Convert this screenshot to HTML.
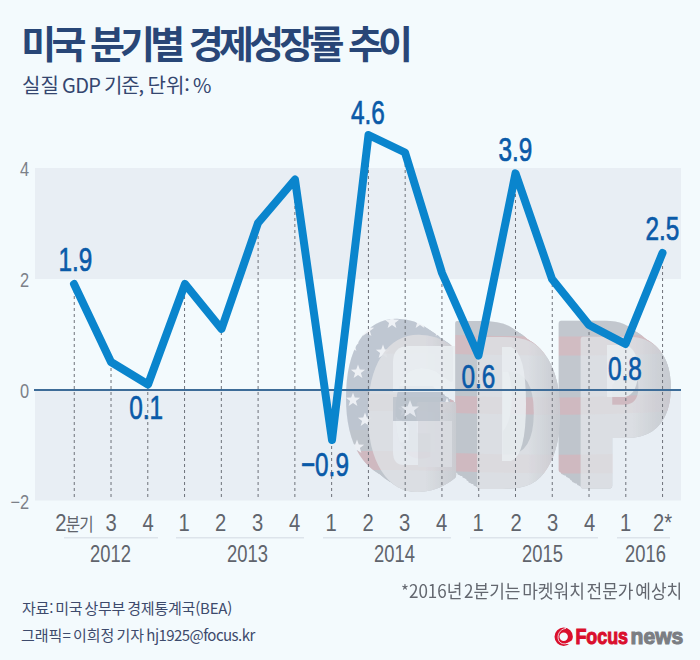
<!DOCTYPE html>
<html lang="ko"><head><meta charset="utf-8">
<style>
html,body{margin:0;padding:0}
body{width:700px;height:660px;overflow:hidden;background:#f3fafd;position:relative;font-family:"Liberation Sans","Noto Sans CJK KR",sans-serif}
.t{position:absolute;white-space:nowrap;transform-origin:0 0}
#title{left:21.3px;top:22.9px;font:700 38px/1 "Noto Sans CJK KR",sans-serif;color:#284677;letter-spacing:-4.8px;word-spacing:2.5px}
#sub{left:22px;top:75px;font:400 20px/1 "Noto Sans CJK KR",sans-serif;color:#34466f;word-spacing:-4px}
svg{position:absolute;left:0;top:0}
.yl{font:400 20px "Liberation Sans",sans-serif;fill:#7c8088}
.xl{font:400 23.2px "Liberation Sans","Noto Sans CJK KR",sans-serif;fill:#60646c}
.yr{font:400 24.2px "Liberation Sans",sans-serif;fill:#60646c}
.vl{font:400 33.8px "Liberation Sans",sans-serif;fill:#0a5aa8;stroke:#0a5aa8;stroke-width:0.7px}
#src{left:22px;top:600px;font:400 15px/1 "Noto Sans CJK KR",sans-serif;color:#3d4a6c;word-spacing:-2px;letter-spacing:-0.2px}
#cr{left:21px;top:626.5px;font:400 15px/1 "Noto Sans CJK KR",sans-serif;color:#3d4a6c;word-spacing:-2px;letter-spacing:0px}
#note{left:400.5px;top:581px;font:400 18px/1 "Noto Sans CJK KR",sans-serif;color:#63676f;transform:scaleX(0.945);word-spacing:-3.2px}
</style></head><body>
<div class="t" id="title">미국 분기별 경제성장률 추이</div>
<div class="t" id="sub"><span style="position:absolute;left:0">실질</span><span style="position:absolute;left:40px;letter-spacing:-0.6px">GDP</span><span style="position:absolute;left:82px;letter-spacing:-1.2px">기준,</span><span style="position:absolute;left:125.5px">단위:</span><span style="position:absolute;left:171px">%</span>&#8203;</div>
<svg width="700" height="660" viewBox="0 0 700 660">
  <rect x="35" y="168" width="646" height="111" fill="#e8eef4"/>
  <rect x="35" y="390" width="646" height="110.5" fill="#e8eef4"/>
  <g id="gdp">
    <defs>
      <filter id="fExt" filterUnits="userSpaceOnUse" x="300" y="290" width="400" height="220"><feOffset in="SourceGraphic" dx="-2.2" dy="-1.6" result="o1"/><feOffset in="SourceGraphic" dx="-4.4" dy="-3.2" result="o2"/><feOffset in="SourceGraphic" dx="-6.6" dy="-4.8" result="o3"/><feOffset in="SourceGraphic" dx="-8.8" dy="-6.4" result="o4"/><feOffset in="SourceGraphic" dx="-11.0" dy="-8.0" result="o5"/><feOffset in="SourceGraphic" dx="-13.2" dy="-9.6" result="o6"/><feOffset in="SourceGraphic" dx="-15.4" dy="-11.2" result="o7"/><feOffset in="SourceGraphic" dx="-17.6" dy="-12.8" result="o8"/><feOffset in="SourceGraphic" dx="-19.8" dy="-14.4" result="o9"/><feOffset in="SourceGraphic" dx="-22.0" dy="-16.0" result="o10"/><feMerge><feMergeNode in="SourceGraphic"/><feMergeNode in="o1"/><feMergeNode in="o2"/><feMergeNode in="o3"/><feMergeNode in="o4"/><feMergeNode in="o5"/><feMergeNode in="o6"/><feMergeNode in="o7"/><feMergeNode in="o8"/><feMergeNode in="o9"/><feMergeNode in="o10"/></feMerge></filter>
      <mask id="mExt" maskUnits="userSpaceOnUse" x="300" y="290" width="400" height="220"><g fill="#fff" filter="url(#fExt)"><text transform="translate(364.0,485.5) scale(0.67,1)" font-family="DejaVu Sans" font-stretch="condensed" font-weight="700" font-size="200" stroke="#fff" stroke-width="6" stroke-linejoin="round">G</text><text transform="translate(468.5,485.5) scale(0.64,1)" font-family="DejaVu Sans" font-stretch="condensed" font-weight="700" font-size="200" stroke="#fff" stroke-width="6" stroke-linejoin="round">D</text><text transform="translate(570.0,485.5) scale(0.79,1)" font-family="DejaVu Sans" font-stretch="condensed" font-weight="700" font-size="200" stroke="#fff" stroke-width="6" stroke-linejoin="round">P</text></g></mask>
      <linearGradient id="shG" gradientUnits="userSpaceOnUse" x1="425" y1="0" x2="458" y2="0"><stop offset="0" stop-color="#c3c7cd" stop-opacity="0"/><stop offset="1" stop-color="#c3c7cd" stop-opacity="0.85"/></linearGradient>
      <linearGradient id="shD" gradientUnits="userSpaceOnUse" x1="528" y1="0" x2="560" y2="0"><stop offset="0" stop-color="#c3c7cd" stop-opacity="0"/><stop offset="1" stop-color="#c3c7cd" stop-opacity="0.85"/></linearGradient>
      <linearGradient id="shP" gradientUnits="userSpaceOnUse" x1="632" y1="0" x2="671" y2="0"><stop offset="0" stop-color="#c3c7cd" stop-opacity="0"/><stop offset="1" stop-color="#c3c7cd" stop-opacity="0.9"/></linearGradient>
      <mask id="mFront" maskUnits="userSpaceOnUse" x="300" y="290" width="400" height="220"><g fill="#fff"><text transform="translate(364.0,485.5) scale(0.67,1)" font-family="DejaVu Sans" font-stretch="condensed" font-weight="700" font-size="200" stroke="#fff" stroke-width="6" stroke-linejoin="round">G</text><text transform="translate(468.5,485.5) scale(0.64,1)" font-family="DejaVu Sans" font-stretch="condensed" font-weight="700" font-size="200" stroke="#fff" stroke-width="6" stroke-linejoin="round">D</text><text transform="translate(570.0,485.5) scale(0.79,1)" font-family="DejaVu Sans" font-stretch="condensed" font-weight="700" font-size="200" stroke="#fff" stroke-width="6" stroke-linejoin="round">P</text></g></mask>
    </defs>
    <g mask="url(#mExt)" opacity="0.8">
      <rect x="330" y="300" width="360" height="200" fill="#b6bbc3"/>
      <path d="M330,338 C420,328 520,343 690,333 L690,352 C520,362 420,347 330,357Z" fill="#c9adb4"/>
      <path d="M330,395 C420,390 520,405 690,392 L690,410 C520,422 420,407 330,412Z" fill="#c9adb4"/>
      <path d="M330,452 C420,447 520,462 690,450 L690,470 C520,480 420,465 330,472Z" fill="#c9adb4"/>
      <rect x="330" y="300" width="120" height="130" fill="#b3bbc8"/>
      <g fill="#eef0f4"><polygon points="352.0,337.5 353.8,342.6 359.1,342.7 354.9,345.9 356.4,351.1 352.0,348.0 347.6,351.1 349.1,345.9 344.9,342.7 350.2,342.6"/><polygon points="367.0,322.5 368.8,327.6 374.1,327.7 369.9,330.9 371.4,336.1 367.0,333.0 362.6,336.1 364.1,330.9 359.9,327.7 365.2,327.6"/><polygon points="392.0,314.5 393.8,319.6 399.1,319.7 394.9,322.9 396.4,328.1 392.0,325.0 387.6,328.1 389.1,322.9 384.9,319.7 390.2,319.6"/><polygon points="420.0,314.5 421.8,319.6 427.1,319.7 422.9,322.9 424.4,328.1 420.0,325.0 415.6,328.1 417.1,322.9 412.9,319.7 418.2,319.6"/><polygon points="358.0,364.5 359.8,369.6 365.1,369.7 360.9,372.9 362.4,378.1 358.0,375.0 353.6,378.1 355.1,372.9 350.9,369.7 356.2,369.6"/><polygon points="383.0,344.5 384.8,349.6 390.1,349.7 385.9,352.9 387.4,358.1 383.0,355.0 378.6,358.1 380.1,352.9 375.9,349.7 381.2,349.6"/><polygon points="353.0,392.5 354.8,397.6 360.1,397.7 355.9,400.9 357.4,406.1 353.0,403.0 348.6,406.1 350.1,400.9 345.9,397.7 351.2,397.6"/><polygon points="365.0,412.5 366.8,417.6 372.1,417.7 367.9,420.9 369.4,426.1 365.0,423.0 360.6,426.1 362.1,420.9 357.9,417.7 363.2,417.6"/><polygon points="405.0,402.5 406.8,407.6 412.1,407.7 407.9,410.9 409.4,416.1 405.0,413.0 400.6,416.1 402.1,410.9 397.9,407.7 403.2,407.6"/><polygon points="440.0,322.5 441.8,327.6 447.1,327.7 442.9,330.9 444.4,336.1 440.0,333.0 435.6,336.1 437.1,330.9 432.9,327.7 438.2,327.6"/><polygon points="447.0,397.5 448.8,402.6 454.1,402.7 449.9,405.9 451.4,411.1 447.0,408.0 442.6,411.1 444.1,405.9 439.9,402.7 445.2,402.6"/><polygon points="357.0,439.5 358.8,444.6 364.1,444.7 359.9,447.9 361.4,453.1 357.0,450.0 352.6,453.1 354.1,447.9 349.9,444.7 355.2,444.6"/><polygon points="420.0,347.5 421.8,352.6 427.1,352.7 422.9,355.9 424.4,361.1 420.0,358.0 415.6,361.1 417.1,355.9 412.9,352.7 418.2,352.6"/></g>
    </g>
    <g mask="url(#mFront)">
      <rect x="330" y="300" width="360" height="200" fill="#dde0e4" opacity="0.93"/>
      <rect x="420" y="300" width="40" height="200" fill="url(#shG)"/>
      <rect x="525" y="300" width="36" height="200" fill="url(#shD)"/>
      <rect x="630" y="300" width="42" height="200" fill="url(#shP)"/>
      <g fill="#d9c6cb" opacity="0.12">
      <path d="M330,338 C420,328 520,343 690,333 L690,352 C520,362 420,347 330,357Z"/>
      <path d="M330,395 C420,390 520,405 690,392 L690,410 C520,422 420,407 330,412Z"/>
      <path d="M330,452 C420,447 520,462 690,450 L690,470 C520,480 420,465 330,472Z"/>
      </g>
    </g>
    <path d="M393,362 Q393,346 409,346 L455,346 L455,392 L393,392Z" fill="#e9edf1" opacity="0.9"/>
    <path d="M393,421 L418,421 L418,465 L404,465 Q393,465 393,452Z" fill="#e6eaef" opacity="0.9"/>
    <rect x="418" y="421" width="34" height="46" fill="#d9dce1" opacity="0.9"/>
    <path d="M502,347 L511,347 Q526,352 526,404 Q526,456 511,461 L502,461Z" fill="#e8ecf0" opacity="0.9"/>
    <path d="M607,345 L625,345 Q638,348 638,371 Q638,394 625,397 L607,397Z" fill="#e8ecf0" opacity="0.9"/>
    <rect x="393" y="397" width="47" height="24" fill="#bcc3cd" opacity="0.85"/>
    <polygon points="410,400 412.5,406.5 419,406.5 414,410.5 416,417 410,413 404,417 406,410.5 401,406.5 407.5,406.5" fill="#e4e8ee"/>
  </g>
  <line x1="34" y1="390" x2="681" y2="390" stroke="#3d6c98" stroke-width="2"/>
  <g stroke="#6d7179" stroke-width="1" stroke-dasharray="3 3">
    <line x1="74.25" y1="284" x2="74.25" y2="500"/>
    <line x1="111.02" y1="362" x2="111.02" y2="500"/>
    <line x1="147.79" y1="386" x2="147.79" y2="500"/>
    <line x1="184.56" y1="284" x2="184.56" y2="500"/>
    <line x1="221.33" y1="332" x2="221.33" y2="500"/>
    <line x1="258.10" y1="224" x2="258.10" y2="500"/>
    <line x1="294.87" y1="182" x2="294.87" y2="500"/>
    <line x1="331.64" y1="440" x2="331.64" y2="500"/>
    <line x1="368.41" y1="140" x2="368.41" y2="500"/>
    <line x1="405.18" y1="158" x2="405.18" y2="500"/>
    <line x1="441.95" y1="278" x2="441.95" y2="500"/>
    <line x1="478.72" y1="356" x2="478.72" y2="500"/>
    <line x1="515.49" y1="176" x2="515.49" y2="500"/>
    <line x1="552.26" y1="284" x2="552.26" y2="500"/>
    <line x1="589.03" y1="326" x2="589.03" y2="500"/>
    <line x1="625.80" y1="344" x2="625.80" y2="500"/>
    <line x1="662.57" y1="254" x2="662.57" y2="500"/>
  </g>
  <polyline fill="none" stroke="#0a85cd" stroke-width="8" stroke-linejoin="round" stroke-linecap="round"
    points="74,284 111,362 148,384.5 185,284 221.5,329 258,223 295,179.5 332,440 368.5,135 405,152.5 442,273 478.5,355.5 515.5,173.4 552,279 589,325 625.5,344 662.5,253"/>
  <g class="yl" text-anchor="end">
    <text id="y4" transform="translate(29.2,176.2) scale(0.82,1)">4</text>
    <text id="y2" transform="translate(29.2,287.2) scale(0.82,1)">2</text>
    <text id="y0" transform="translate(29.2,398.2) scale(0.82,1)">0</text>
    <text id="ym2" transform="translate(29.2,509.2) scale(0.82,1)">−2</text>
  </g>
  <g class="vl" text-anchor="middle">
    <text id="v1" transform="translate(75.3,271) scale(0.72,1)">1.9</text>
    <text id="v2" transform="translate(146.2,419) scale(0.72,1)">0.1</text>
    <text id="v3" transform="translate(324.9,476) scale(0.72,1)">−0.9</text>
    <text id="v4" transform="translate(367.9,123.6) scale(0.72,1)">4.6</text>
    <text id="v5" transform="translate(478.3,387.7) scale(0.72,1)">0.6</text>
    <text id="v6" transform="translate(515.5,161) scale(0.72,1)">3.9</text>
    <text id="v7" transform="translate(625,380) scale(0.72,1)">0.8</text>
    <text id="v8" transform="translate(662.4,239.7) scale(0.72,1)">2.5</text>
  </g>
  <g class="xl" text-anchor="middle">
    <text id="x0" transform="translate(74,531) scale(0.87,1)" style="letter-spacing:-1px">2<tspan style="font-family:'Noto Sans CJK KR';font-size:18px">분기</tspan></text>
    <text transform="translate(111,531) scale(0.87,1)">3</text>
    <text transform="translate(148,531) scale(0.87,1)">4</text>
    <text transform="translate(184,531) scale(0.87,1)">1</text>
    <text transform="translate(220.5,531) scale(0.87,1)">2</text>
    <text transform="translate(257.5,531) scale(0.87,1)">3</text>
    <text transform="translate(294.5,531) scale(0.87,1)">4</text>
    <text transform="translate(331,531) scale(0.87,1)">1</text>
    <text transform="translate(368,531) scale(0.87,1)">2</text>
    <text transform="translate(404.5,531) scale(0.87,1)">3</text>
    <text transform="translate(441.5,531) scale(0.87,1)">4</text>
    <text transform="translate(478,531) scale(0.87,1)">1</text>
    <text transform="translate(516,531) scale(0.87,1)">2</text>
    <text transform="translate(552.5,531) scale(0.87,1)">3</text>
    <text transform="translate(589.5,531) scale(0.87,1)">4</text>
    <text transform="translate(625.5,531) scale(0.87,1)">1</text>
    <text id="x16" transform="translate(662.5,531) scale(0.87,1)">2*</text>
  </g>
  <g stroke="#dde4eb" stroke-width="1.6">
    <line x1="64" y1="537.8" x2="158" y2="537.8"/>
    <line x1="176" y1="537.8" x2="304" y2="537.8"/>
    <line x1="323" y1="537.8" x2="451" y2="537.8"/>
    <line x1="470" y1="537.8" x2="598" y2="537.8"/>
    <line x1="617" y1="537.8" x2="670" y2="537.8"/>
  </g>
  <g class="yr" text-anchor="middle">
    <text id="yr2" transform="translate(110.5,562) scale(0.76,1)">2012</text>
    <text transform="translate(247.5,562) scale(0.76,1)">2013</text>
    <text transform="translate(394.5,562) scale(0.76,1)">2014</text>
    <text transform="translate(542.5,562) scale(0.76,1)">2015</text>
    <text transform="translate(645.5,562) scale(0.76,1)">2016</text>
  </g>
</svg>
<div class="t" id="note">*2016년 2분기는 마켓워치 전문가 예상치</div>
<div class="t" id="src">자료: 미국 상무부 경제통계국(BEA)</div>
<div class="t" id="cr">그래픽= 이희정 기자 <span style="letter-spacing:-0.55px">hj1925@focus.kr</span></div>
<svg id="logo" width="700" height="660" viewBox="0 0 700 660" style="pointer-events:none">
  <circle cx="563.7" cy="636.7" r="6.7" fill="none" stroke="#da0f2d" stroke-width="5"/>
  <path d="M566,628.4 C559.5,629 556.5,635.5 558.8,640.8 C561,644.5 566.5,645 570.5,641.5" fill="none" stroke="#f3fafd" stroke-width="0.8"/>
  <path d="M565.5,643.6 C568.5,643.2 571,641.5 573.5,638.6 L573.8,641.5 C571.5,644 568.5,645 565.5,643.6Z" fill="#f3fafd"/>
  <text x="575.4" y="644.4" font-family="Liberation Sans" font-weight="700" font-size="22" fill="#da0f2d" stroke="#da0f2d" stroke-width="1.1" textLength="52.6" lengthAdjust="spacingAndGlyphs">Focus</text>
  <text x="630.6" y="644.4" font-family="Liberation Sans" font-weight="700" font-size="22" fill="#7b7e83" stroke="#7b7e83" stroke-width="1.1" textLength="52.6" lengthAdjust="spacingAndGlyphs">news</text>
</svg>
</body></html>
